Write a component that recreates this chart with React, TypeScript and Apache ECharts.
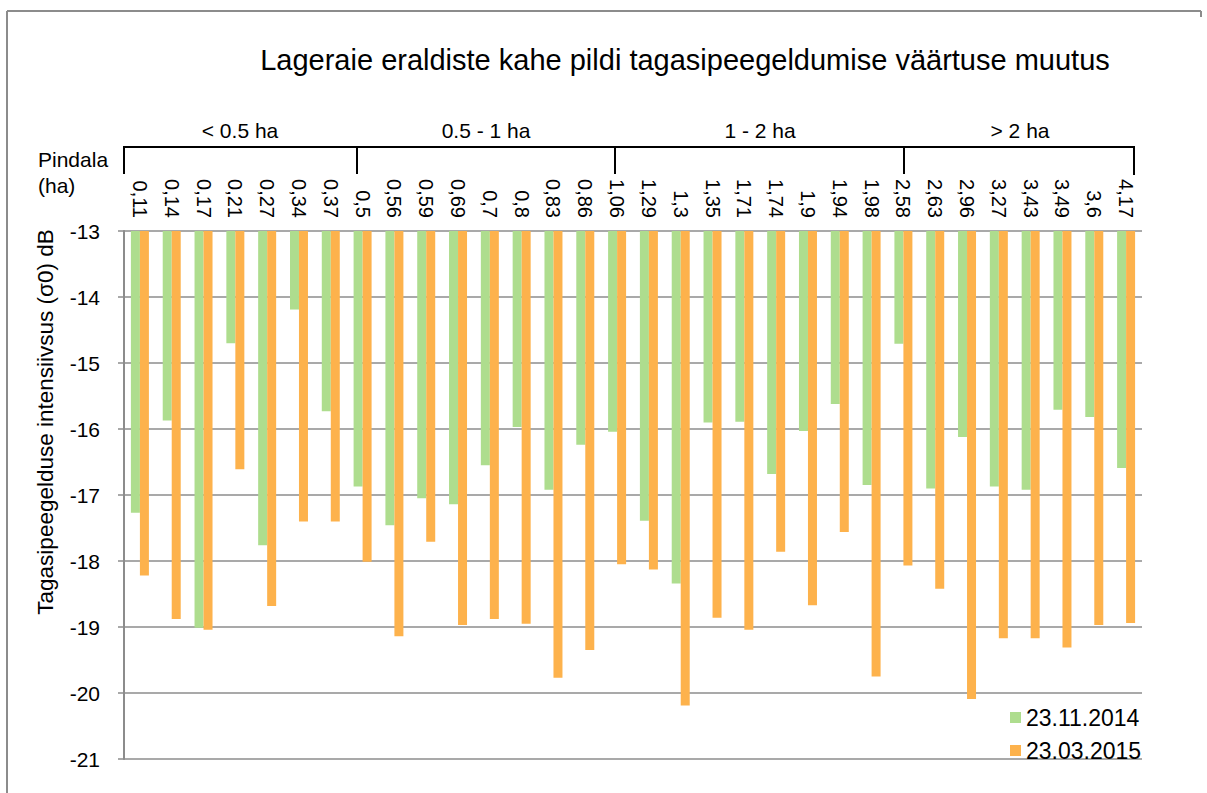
import React, { useEffect, useRef } from "react";
import * as echarts from "echarts";

const categories = [
  "0,11", "0,14", "0,17", "0,21", "0,27", "0,34", "0,37",
  "0,5", "0,56", "0,59", "0,69", "0,7", "0,8", "0,83", "0,86",
  "1,06", "1,29", "1,3", "1,35", "1,71", "1,74", "1,9", "1,94", "1,98",
  "2,58", "2,63", "2,96", "3,27", "3,43", "3,49", "3,6", "4,17",
];

const nov2014 = [
  -17.27, -15.87, -19.01, -14.7, -17.76, -14.19, -15.73,
  -16.87, -17.46, -17.05, -17.14, -16.55, -15.97, -16.92, -16.24,
  -16.04, -17.39, -18.34, -15.9, -15.89, -16.68, -16.03, -15.62, -16.85,
  -14.71, -16.9, -16.12, -16.87, -16.92, -15.71, -15.82, -16.59,
];

const mar2015 = [
  -18.22, -18.88, -19.04, -16.61, -18.68, -17.4, -17.4,
  -18.01, -19.14, -17.71, -18.97, -18.88, -18.95, -19.77, -19.35,
  -18.05, -18.13, -20.19, -18.86, -19.04, -17.86, -18.67, -17.56, -19.75,
  -18.07, -18.42, -20.09, -19.17, -19.17, -19.31, -18.97, -18.94,
];

const seriesNames = ["23.11.2014", "23.03.2015"];
const groupLabels = ["< 0.5 ha", "0.5 - 1 ha", "1 - 2 ha", "> 2 ha"];
const yTicks = { min: -21, max: -13, interval: 1 };

const FONT = "'Liberation Sans', Arial, sans-serif";
const GREEN = "#AEDD8E";
const ORANGE = "#FDB24C";
const GRID = "#8C8C8C";

export default function App() {
  const ref = useRef<HTMLDivElement>(null);

  useEffect(() => {
    if (!ref.current) return;
    const chart = echarts.init(ref.current, null, { renderer: "svg" });

    const bracketLine = { stroke: "#000", lineWidth: 2, fill: null };
    const groupCenters = [240, 486, 760, 1020];
    const dividers = [357, 615, 904];

    chart.setOption({
      animation: false,
      backgroundColor: "#fff",
      textStyle: { fontFamily: FONT },
      grid: { left: 124, right: 65, top: 231, height: 528, containLabel: false },
      legend: {
        orient: "vertical",
        left: 1005,
        top: 701,
        itemWidth: 11,
        itemHeight: 11,
        itemGap: 10,
        icon: "rect",
        data: seriesNames,
        textStyle: { fontFamily: FONT, fontSize: 23, color: "#000", padding: [0, 0, 0, 0] },
      },
      xAxis: {
        type: "category",
        position: "top",
        data: categories,
        axisLine: { show: false },
        axisTick: { show: false },
        axisLabel: {
          rotate: 90,
          interval: 0,
          margin: 13,
          fontFamily: FONT,
          fontSize: 20,
          color: "#000",
        },
      },
      yAxis: {
        type: "value",
        min: yTicks.min,
        max: yTicks.max,
        interval: yTicks.interval,
        startValue: yTicks.max,
        axisLine: { show: true, lineStyle: { color: GRID, width: 2 } },
        axisTick: { show: true, length: 6, lineStyle: { color: GRID, width: 1.5 } },
        axisLabel: { margin: 24, fontFamily: FONT, fontSize: 21, color: "#000" },
        splitLine: { show: true, lineStyle: { color: GRID, width: 1.5 } },
      },
      series: [
        {
          name: seriesNames[0],
          type: "bar",
          data: nov2014,
          barWidth: 9,
          barGap: "0%",
          clip: true,
          itemStyle: { color: GREEN },
        },
        {
          name: seriesNames[1],
          type: "bar",
          data: mar2015,
          barWidth: 9,
          barGap: "0%",
          clip: true,
          itemStyle: { color: ORANGE },
        },
      ],
      graphic: [
        // outer border
        { type: "line", shape: { x1: 7, y1: 11, x2: 1201, y2: 11 }, style: { stroke: GRID, lineWidth: 2 } },
        { type: "line", shape: { x1: 7, y1: 11, x2: 7, y2: 793 }, style: { stroke: GRID, lineWidth: 2 } },
        { type: "line", shape: { x1: 1201, y1: 11, x2: 1201, y2: 17 }, style: { stroke: GRID, lineWidth: 2 } },
        // title
        {
          type: "text",
          x: 685,
          y: 60,
          style: {
            text: "Lageraie eraldiste kahe pildi tagasipeegeldumise väärtuse muutus",
            fontFamily: FONT,
            fontSize: 29,
            fill: "#000",
            textAlign: "center",
            textVerticalAlign: "middle",
          },
        },
        // bracket
        {
          type: "polyline",
          shape: { points: [[124, 174], [124, 147], [1134, 147], [1134, 175]] },
          style: bracketLine,
        },
        ...dividers.map((x) => ({
          type: "line",
          shape: { x1: x, y1: 147, x2: x, y2: 174 },
          style: bracketLine,
        })),
        ...groupLabels.map((t, i) => ({
          type: "text",
          x: groupCenters[i],
          y: 130,
          style: {
            text: t,
            fontFamily: FONT,
            fontSize: 21,
            fill: "#000",
            textAlign: "center",
            textVerticalAlign: "middle",
          },
        })),
        {
          type: "text",
          x: 38,
          y: 159,
          style: { text: "Pindala", fontFamily: FONT, fontSize: 21, fill: "#000", textVerticalAlign: "middle" },
        },
        {
          type: "text",
          x: 38,
          y: 185,
          style: { text: "(ha)", fontFamily: FONT, fontSize: 21, fill: "#000", textVerticalAlign: "middle" },
        },
        // y axis name
        {
          type: "text",
          x: 45,
          y: 422,
          rotation: Math.PI / 2,
          style: {
            text: "Tagasipeegelduse intensiivsus (σ0) dB",
            fontFamily: FONT,
            fontSize: 22.5,
            fill: "#000",
            textAlign: "center",
            textVerticalAlign: "middle",
          },
        },
      ],
    });

    return () => chart.dispose();
  }, []);

  return (
    <div
      ref={ref}
      style={{ position: "fixed", left: 0, top: 0, width: 1207, height: 793, background: "#fff" }}
    />
  );
}
